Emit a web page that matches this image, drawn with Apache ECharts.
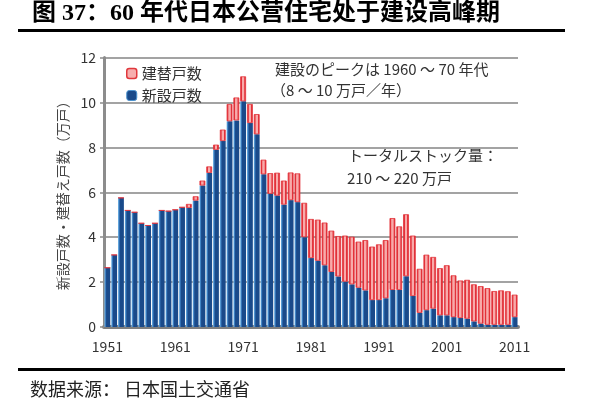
<!DOCTYPE html>
<html>
<head>
<meta charset="utf-8">
<script src="https://cdn.jsdelivr.net/npm/echarts@6/dist/echarts.min.js"></script>
<style>
  html, body { margin: 0; padding: 0; background: #fff; }
  #chart { width: 592px; height: 410px; }
</style>
</head>
<body>
<div id="chart"></div>
<script>
const years = [
  '1951', '1952', '1953', '1954', '1955', '1956', '1957', '1958', '1959', '1960',
  '1961', '1962', '1963', '1964', '1965', '1966', '1967', '1968', '1969', '1970',
  '1971', '1972', '1973', '1974', '1975', '1976', '1977', '1978', '1979', '1980',
  '1981', '1982', '1983', '1984', '1985', '1986', '1987', '1988', '1989', '1990',
  '1991', '1992', '1993', '1994', '1995', '1996', '1997', '1998', '1999', '2000',
  '2001', '2002', '2003', '2004', '2005', '2006', '2007', '2008', '2009', '2010',
  '2011'
];

// 新設戸数 (万戸)
const newUnits = [
  2.64, 3.21, 5.75, 5.19, 5.11, 4.62, 4.52, 4.62, 5.19, 5.16,
  5.22, 5.33, 5.30, 5.63, 6.30, 6.86, 7.89, 8.28, 9.16, 9.20,
  10.05, 9.08, 8.58, 6.80, 5.93, 5.85, 5.45, 5.65, 5.56, 4.00,
  3.07, 2.95, 2.75, 2.45, 2.25, 2.02, 1.90, 1.75, 1.63, 1.20,
  1.20, 1.28, 1.65, 1.65, 2.26, 1.38, 0.63, 0.75, 0.82, 0.52,
  0.52, 0.44, 0.40, 0.37, 0.25, 0.15, 0.10, 0.10, 0.10, 0.10,
  0.44
];

// 建替戸数 (万戸)
const rebuildUnits = [
  0, 0, 0, 0, 0, 0, 0, 0, 0, 0,
  0, 0, 0.18, 0.19, 0.22, 0.29, 0.23, 0.51, 0.77, 1.02,
  1.11, 0.85, 0.90, 0.65, 0.92, 1.02, 1.07, 1.23, 1.28, 1.53,
  1.74, 1.83, 1.90, 1.84, 1.80, 2.05, 2.12, 2.05, 2.24, 2.38,
  2.48, 2.59, 3.20, 2.83, 2.76, 2.69, 1.96, 2.47, 2.30, 2.10,
  2.23, 1.86, 1.67, 1.73, 1.65, 1.67, 1.63, 1.50, 1.53, 1.49,
  1.00
];

const yTicks = [0, 2, 4, 6, 8, 10, 12];

const chartFont = "'Noto Sans CJK JP', 'Noto Sans', sans-serif";
const titleFont = "'Liberation Serif', 'Noto Sans CJK SC', serif";

const chart = echarts.init(document.getElementById('chart'));

// light stripe on the left edge of the blue bars
const blueFill = new echarts.graphic.LinearGradient(0, 0, 1, 0, [
  { offset: 0, color: '#6fb6e8' },
  { offset: 0.2, color: '#3a7cc0' },
  { offset: 0.36, color: '#1a4a8a' },
  { offset: 1, color: '#1a4a8a' }
]);

// red edges, pink middle
const redFill = new echarts.graphic.LinearGradient(0, 0, 1, 0, [
  { offset: 0, color: '#e2323a' },
  { offset: 0.24, color: '#e2323a' },
  { offset: 0.36, color: '#f8aaaa' },
  { offset: 0.64, color: '#f8aaaa' },
  { offset: 0.76, color: '#e2323a' },
  { offset: 1, color: '#e2323a' }
]);

const options = {
  animation: false,
  textStyle: { fontFamily: chartFont },
  grid: { left: 104, right: 74, top: 57.5, bottom: 83 },
  legend: {
    orient: 'vertical',
    left: 121,
    top: 61,
    itemWidth: 10,
    itemHeight: 10,
    itemGap: 7,
    textStyle: { fontFamily: chartFont, fontSize: 15, color: '#333' },
    data: [
      { name: '建替戸数', itemStyle: { color: '#f7aeae', borderColor: '#e0383d', borderWidth: 1.5 } },
      { name: '新設戸数', itemStyle: { color: '#1a4a8a', borderColor: '#4d93cf', borderWidth: 1 } }
    ]
  },
  xAxis: {
    type: 'category',
    data: years,
    axisLine: { lineStyle: { color: '#7f7f7f', width: 4 } },
    axisTick: { show: false },
    axisLabel: {
      interval: 9,
      margin: 13,
      fontSize: 14,
      color: '#333',
      fontFamily: chartFont
    }
  },
  yAxis: {
    type: 'value',
    min: yTicks[0],
    max: yTicks[yTicks.length - 1],
    interval: 2,
    name: '新設戸数・建替え戸数（万戸）',
    nameLocation: 'middle',
    nameRotate: 90,
    nameGap: 34,
    nameTextStyle: { fontSize: 14, color: '#444', fontFamily: chartFont },
    axisLine: { show: true, lineStyle: { color: '#8c8c8c', width: 3 } },
    axisTick: { show: true, length: 4, lineStyle: { color: '#8c8c8c', width: 1.5 } },
    axisLabel: { fontSize: 14, color: '#333', margin: 8, fontFamily: chartFont },
    splitLine: { lineStyle: { color: '#a3a3a3', width: 2 } }
  },
  series: [
    {
      name: '新設戸数',
      type: 'bar',
      stack: 'units',
      barCategoryGap: '14%',
      itemStyle: { color: blueFill },
      data: newUnits
    },
    {
      name: '建替戸数',
      type: 'bar',
      stack: 'units',
      itemStyle: { color: redFill, borderColor: '#e2323a', borderWidth: 0.8 },
      data: rebuildUnits
    }
  ],
  graphic: [
    {
      type: 'text', left: 32, top: 2,
      style: { text: '图 37：60 年代日本公营住宅处于建设高峰期', font: 'bold 24px ' + titleFont, fill: '#000' }
    },
    { type: 'rect', shape: { x: 18, y: 29, width: 547, height: 3 }, style: { fill: '#000' } },
    { type: 'rect', shape: { x: 18, y: 368, width: 547, height: 3 }, style: { fill: '#000' } },
    {
      type: 'text', left: 30, top: 380,
      style: { text: '数据来源： 日本国土交通省', font: '18px ' + "'Noto Sans CJK SC', serif", fill: '#222' }
    },
    {
      type: 'text', left: 275, top: 62,
      style: { text: '建設のピークは 1960 ～ 70 年代', font: '15px ' + chartFont, fill: '#333' }
    },
    {
      type: 'text', left: 271, top: 83,
      style: { text: '（8 ～ 10 万戸／年）', font: '15px ' + chartFont, fill: '#333' }
    },
    {
      type: 'text', left: 348, top: 148,
      style: { text: 'トータルストック量：', font: '15px ' + chartFont, fill: '#333' }
    },
    {
      type: 'text', left: 347, top: 171,
      style: { text: '210 ～ 220 万戸', font: '15px ' + chartFont, fill: '#333' }
    }
  ]
};

chart.setOption(options);
</script>
</body>
</html>
